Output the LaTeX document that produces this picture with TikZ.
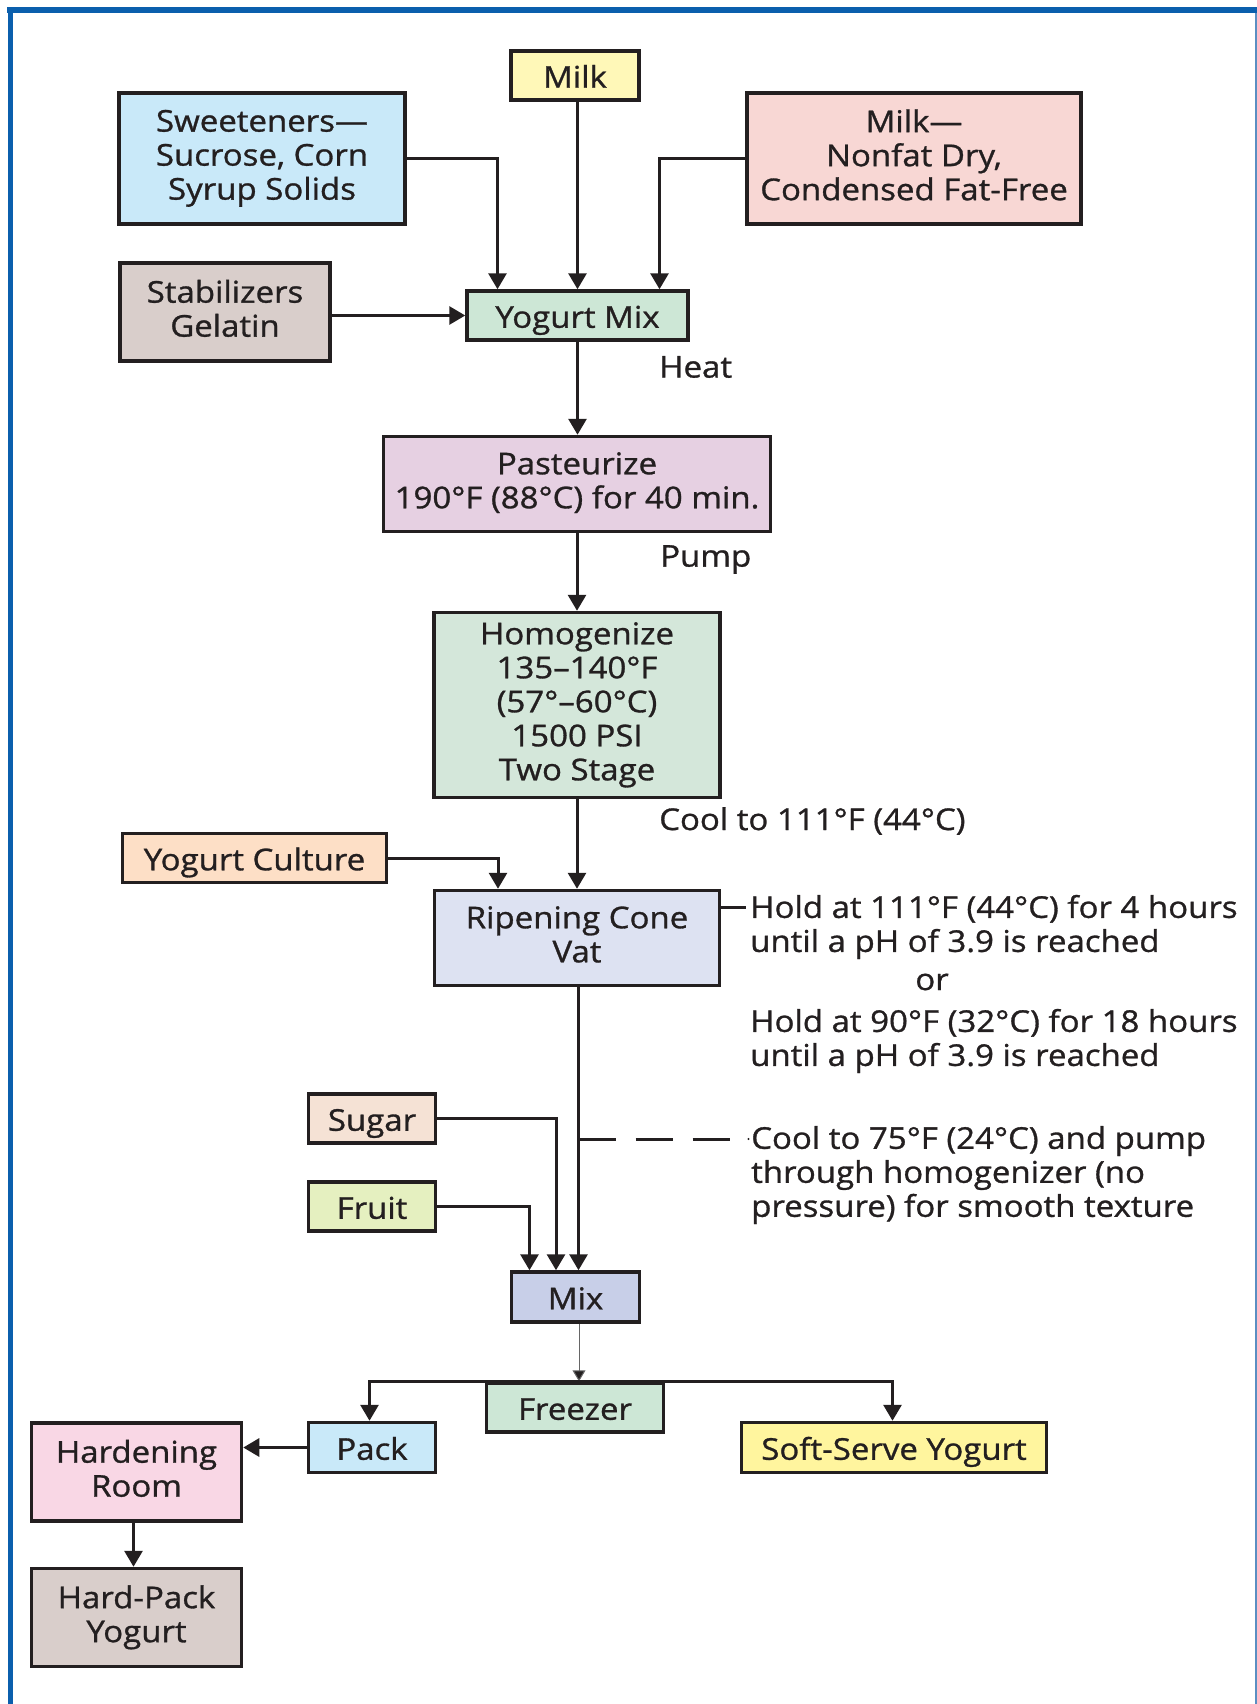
\documentclass[tikz,border=0pt]{standalone}
\usepackage{fontspec}
\setmainfont{Open Sans}[FakeStretch=1.1,FakeBold=1]
\usetikzlibrary{arrows.meta,calc}
\definecolor{ink}{HTML}{231F20}
\definecolor{frameblue}{HTML}{0B5FAD}
\definecolor{frameright}{HTML}{5A8FC2}
\definecolor{cmilk}{HTML}{FFF8B8}
\definecolor{csweet}{HTML}{C9E9F9}
\definecolor{cnonfat}{HTML}{F8D7D4}
\definecolor{cstab}{HTML}{D9CECB}
\definecolor{cgreen}{HTML}{CDE7D6}
\definecolor{cpast}{HTML}{E6D0E2}
\definecolor{chomog}{HTML}{D4E7DA}
\definecolor{cculture}{HTML}{FDDFC6}
\definecolor{cripen}{HTML}{DDE2F2}
\definecolor{csugar}{HTML}{F5E2D5}
\definecolor{cfruit}{HTML}{E5F0C0}
\definecolor{cmix}{HTML}{C8CFE8}
\definecolor{csoft}{HTML}{FFF59E}
\definecolor{charden}{HTML}{F9D7E5}
\newcommand{\boxtop}{\rule{0pt}{32pt}}
\newcommand{\boxbot}{\rule[-7.5pt]{0pt}{7.5pt}}
\begin{document}
\begin{tikzpicture}[x=1pt,y=-1pt,
  every node/.style={text=ink,font=\fontsize{30}{34}\selectfont},
  box/.style={draw=ink,line width=3.5pt,rectangle,inner sep=0pt,align=center,
    execute at begin node=\boxtop, execute at end node=\boxbot},
  lbl/.style={anchor=west,inner sep=0pt,align=left},
  arr/.style={draw=ink,line width=3pt,-{Triangle[width=18pt,length=16pt]}},
  plain/.style={draw=ink,line width=3pt},
  thinarr/.style={draw=gray!80!black,line width=1pt,-{Triangle[width=13pt,length=11pt,fill=ink]}},
  dashline/.style={draw=ink,line width=3pt,dash pattern=on 37pt off 20pt}]
\useasboundingbox (0,0) rectangle (1257,1704);
% frame
\fill[frameblue] (7,7) rectangle (1257,13);
\fill[frameblue] (8,7) rectangle (13,1704);
\fill[frameright] (1254.5,13) rectangle (1257,1704);
% nodes
\node[box,fill=cmilk,minimum width=128pt,minimum height=49pt] (milk) at (575,75.5) {Milk};
\node[box,fill=csweet,minimum width=286pt,minimum height=131pt] (sweet) at (262,158.5) {Sweeteners—\\Sucrose, Corn\\Syrup Solids};
\node[box,fill=cnonfat,minimum width=334pt,minimum height=131pt] (nonfat) at (914,158.5) {Milk—\\Nonfat Dry,\\Condensed Fat-Free};
\node[box,fill=cstab,minimum width=210pt,minimum height=98pt] (stab) at (225,312) {Stabilizers\\Gelatin};
\node[box,fill=cgreen,minimum width=221pt,minimum height=49pt] (ymix) at (577.5,315.5) {Yogurt Mix};
\node[box,fill=cpast,minimum width=387pt,minimum height=95pt] (past) at (577,484) {Pasteurize\\190°F (88°C) for 40 min.};
\node[box,fill=chomog,minimum width=286pt,minimum height=185pt] (homog) at (577,705) {Homogenize\\135–140°F\\(57°–60°C)\\1500 PSI\\Two Stage};
\node[box,fill=cculture,minimum width=264pt,minimum height=49pt] (culture) at (254.5,858) {Yogurt Culture};
\node[box,fill=cripen,minimum width=285pt,minimum height=95pt] (ripen) at (577,938) {Ripening Cone\\Vat};
\node[box,fill=csugar,minimum width=127pt,minimum height=49pt] (sugar) at (372,1118.5) {Sugar};
\node[box,fill=cfruit,minimum width=127pt,minimum height=49pt] (fruit) at (372,1206.5) {Fruit};
\node[box,fill=cmix,minimum width=128pt,minimum height=50pt] (mix) at (575.5,1297) {Mix};
\node[box,fill=cgreen,minimum width=177pt,minimum height=49pt] (freezer) at (575,1407.5) {Freezer};
\node[box,fill=csweet,minimum width=127pt,minimum height=50pt] (pack) at (372,1447.5) {Pack};
\node[box,fill=csoft,minimum width=305pt,minimum height=50pt] (soft) at (894,1447.5) {Soft-Serve Yogurt};
\node[box,fill=charden,minimum width=210pt,minimum height=98pt] (harden) at (136.5,1472) {Hardening\\Room};
\node[box,fill=cstab,minimum width=210pt,minimum height=98pt] (hardpack) at (136.5,1617.5) {Hard-Pack\\Yogurt};
% labels
\node[lbl] (heat) at (659,367) {Heat};
\node[lbl] (pump) at (660,559.5) {Pump};
\node[lbl] (cool1) at (659,821) {Cool to 111°F (44°C)};
\node[lbl] (hold1) at (750,927) {Hold at 111°F (44°C) for 4 hours\\until a pH of 3.9 is reached};
\node (or) at (932,982) {or};
\node[lbl] (hold2) at (750,1041) {Hold at 90°F (32°C) for 18 hours\\until a pH of 3.9 is reached};
\node[lbl] (cool2) at (751,1175) {Cool to 75°F (24°C) and pump\\through homogenizer (no\\pressure) for smooth texture};
% connectors
\draw[arr] (sweet.east) -| ($(ymix.north)+(-80,0)$);
\draw[arr] (ymix.north |- milk.south) -- (ymix.north);
\draw[arr] (nonfat.west) -| ($(ymix.north)+(82,0)$);
\draw[arr] (stab.east |- ymix) -- (ymix.west);
\draw[arr] (ymix.south) -- (ymix.south |- past.north);
\draw[arr] (past.south) -- (past.south |- homog.north);
\draw[arr] (homog.south) -- (homog.south |- ripen.north);
\draw[arr] (culture.east) -| ($(ripen.north)+(-79,0)$);
\coordinate (holdpt) at (746,907);
\draw[plain] (ripen.east |- holdpt) -- (holdpt);
\draw[arr] ($(ripen.south)+(1.5,0)$) -- ($(mix.north)+(3,0)$);
\coordinate (dashend) at (730,1139);
\draw[dashline] ($(ripen.south |- dashend)+(1.5,0)$) -- (dashend);
\fill[ink] (748.5,1139) circle (1.2pt);
\draw[arr] (sugar.east) -| ($(mix.north)+(-19.5,0)$);
\draw[arr] (fruit.east) -| ($(mix.north)+(-46,0)$);
\draw[thinarr] ($(mix.south)+(3.5,0)$) -- ($(freezer.north)+(4,0)$);
\draw[arr] (freezer.north) -| ($(pack.north)+(-2.5,0)$);
\draw[arr] (freezer.north) -| ($(soft.north)+(-1.5,0)$);
\draw[arr] (pack.west) -- (pack.west -| harden.east);
\draw[arr] ($(harden.south)+(-3,0)$) -- ($(hardpack.north)+(-3,0)$);
\end{tikzpicture}
\end{document}
